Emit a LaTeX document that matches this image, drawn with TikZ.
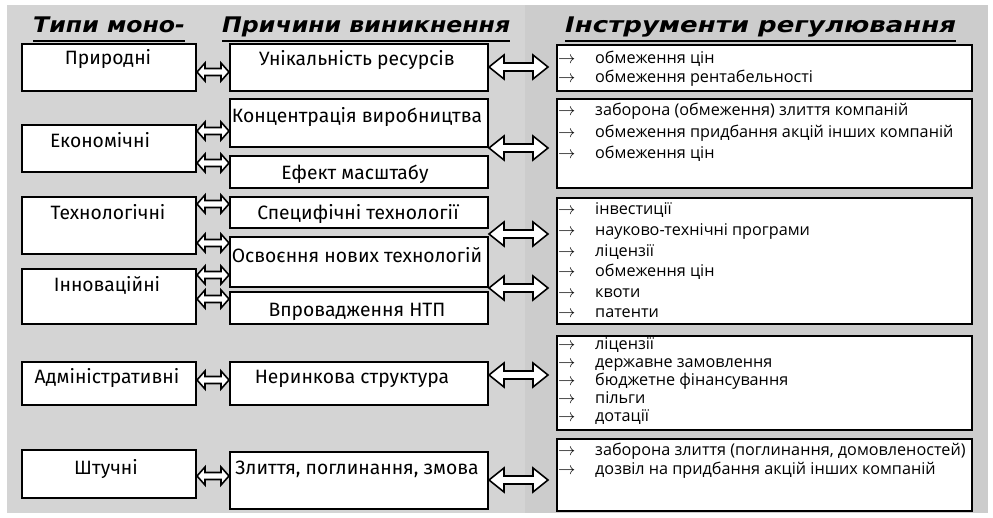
\documentclass[tikz,border=0pt]{standalone}
\usepackage{fontspec}
\setmainfont{Fira Sans}
\newfontfamily\listfont{Open Sans}
\newfontfamily\hdrfont[FakeStretch=1.1]{DejaVu Sans}
\newfontfamily\hdrfontw[FakeStretch=1.21]{DejaVu Sans}
\usetikzlibrary{calc}
\newcommand\dblarrow[7]{%
  % #1 from node, #2 to node, #3 centre y (px), #4 half head, #5 half shaft, #6 head length, #7 gap at right
  \draw[arr] let \p1=(#1.east), \p2=(#2.west) in
    (\x1,{-#3pt})
    -- ({\x1+#6pt},{-#3pt+#4pt}) -- ({\x1+#6pt},{-#3pt+#5pt})
    -- ({\x2-#7pt-#6pt},{-#3pt+#5pt}) -- ({\x2-#7pt-#6pt},{-#3pt+#4pt})
    -- ({\x2-#7pt},{-#3pt})
    -- ({\x2-#7pt-#6pt},{-#3pt-#4pt}) -- ({\x2-#7pt-#6pt},{-#3pt-#5pt})
    -- ({\x1+#6pt},{-#3pt-#5pt}) -- ({\x1+#6pt},{-#3pt-#4pt}) -- cycle;}
\newcommand\itemlist[4]{%
  \foreach \t [count=\i] in {#4} {\node[lstitem] (#1-\i) at (558,{#2+(\i-1)*#3}) {\makebox[37pt][l]{$\rightarrow$}\t};}}
\begin{document}
\begin{tikzpicture}[x=1pt,y=-1pt,
  box/.style={draw, line width=2pt, fill=white, inner sep=0, anchor=north west},
  lbl/.style={anchor=base, inner sep=0, font=\fontsize{19.3}{23}\selectfont},
  lstitem/.style={anchor=base west, inner sep=0, font=\listfont\fontsize{16.2}{19}\selectfont},
  hdr/.style={anchor=base west, inner sep=0, font=\hdrfont\bfseries\itshape\fontsize{21.5}{25}\selectfont},
  arr/.style={draw, line width=1.6pt, fill=white, line join=miter},
  uline/.style={line width=2pt}]
\useasboundingbox (0,0) rectangle (993,518);
% background
\fill[fill=black!17] (7,5) rectangle (525,513);
\fill[fill=black!20] (525,5) rectangle (988,513);
% headers
\node[hdr] (h1) at (33,33) {Типи моно-};
\node[hdr] (h2) at (222,33) {Причини виникнення};
\node[hdr, font=\hdrfontw\bfseries\itshape\fontsize{21.5}{25}\selectfont] (h3) at (565,33) {Інструменти регулювання};
\foreach \h in {h1,h2,h3} \draw[uline] ([yshift=-8pt]\h.base west) -- ([yshift=-8pt]\h.base east);
% left column
\node[box, minimum width=174pt, minimum height=47pt] (n1) at (21,43) {};
\node[box, minimum width=174pt, minimum height=47pt] (n2) at (21,124) {};
\node[box, minimum width=174pt, minimum height=57pt] (n3) at (21,196) {};
\node[box, minimum width=174pt, minimum height=55pt] (n4) at (21,268) {};
\node[box, minimum width=174pt, minimum height=43pt] (n5) at (21,361) {};
\node[box, minimum width=174pt, minimum height=48pt] (n6) at (21,449) {};
% middle column
\node[box, minimum width=258pt, minimum height=47pt] (m1) at (229,43) {};
\node[box, minimum width=258pt, minimum height=48pt] (m2) at (229,98) {};
\node[box, minimum width=258pt, minimum height=32pt] (m3) at (229,155) {};
\node[box, minimum width=258pt, minimum height=31pt] (m4) at (229,196) {};
\node[box, minimum width=258pt, minimum height=50pt] (m5) at (229,236) {};
\node[box, minimum width=258pt, minimum height=32pt] (m6) at (229,291) {};
\node[box, minimum width=258pt, minimum height=43pt] (m7) at (229,361) {};
\node[box, minimum width=258pt, minimum height=57pt] (m8) at (229,451) {};
% right column
\node[box, minimum width=415pt, minimum height=46pt] (r1) at (556,44) {};
\node[box, minimum width=415pt, minimum height=89pt] (r2) at (556,98) {};
\node[box, minimum width=415pt, minimum height=126pt] (r3) at (556,197) {};
\node[box, minimum width=415pt, minimum height=94pt] (r4) at (556,335) {};
\node[box, minimum width=415pt, minimum height=72pt] (r5) at (556,438) {};
% small arrows
\dblarrow{n1}{m1}{72}{9}{3.5}{8}{0}
\dblarrow{n2}{m2}{131}{9}{3.5}{8}{0}
\dblarrow{n2}{m3}{163}{9}{3.5}{8}{0}
\dblarrow{n3}{m4}{204}{9}{3.5}{8}{0}
\dblarrow{n3}{m5}{243}{9}{3.5}{8}{0}
\dblarrow{n4}{m5}{275}{9}{3.5}{8}{0}
\dblarrow{n4}{m6}{299}{9}{3.5}{8}{0}
\dblarrow{n5}{m7}{380}{9}{3.5}{8}{0}
\dblarrow{n6}{m8}{476}{9}{3.5}{8}{0}
% big arrows
\dblarrow{m1}{r1}{67}{12}{4}{15}{8}
\dblarrow{m2}{r2}{148}{12}{4}{15}{8}
\dblarrow{m4}{r3}{234}{12}{4}{15}{8}
\dblarrow{m6}{r3}{288}{12}{4}{15}{8}
\dblarrow{m7}{r4}{375}{12}{4}{15}{8}
\dblarrow{m8}{r5}{480}{12}{4}{15}{8}
% left labels
\node[lbl] (tn1) at (108,65) {Природні};
\node[lbl] (tn2) at (100,148) {Економічні};
\node[lbl] (tn3) at (108,220) {Технологічні};
\node[lbl] (tn4) at (107,292) {Інноваційні};
\node[lbl] (tn5) at (107,384) {Адміністративні};
\node[lbl] (tn6) at (106,474) {Штучні};
% middle labels
\node[lbl] (tm1) at (357,66) {Унікальність ресурсів};
\node[lbl] (tm2) at (357,123) {Концентрація виробництва};
\node[lbl] (tm3) at (355,180) {Ефект масштабу};
\node[lbl] (tm4) at (358,220) {Специфічні технології};
\node[lbl] (tm5) at (357,263) {Освоєння нових технологій};
\node[lbl] (tm6) at (357,317) {Впровадження НТП};
\node[lbl] (tm7) at (352,384) {Неринкова структура};
\node[lbl] (tm8) at (357,474) {Злиття, поглинання, змова};
% right lists
\itemlist{l1}{64}{19}{обмеження цін, обмеження рентабельності}
\itemlist{l2}{116}{21.5}{заборона (обмеження) злиття компаній, обмеження придбання акцій інших компаній, обмеження цін}
\itemlist{l3}{215}{20.6}{інвестиції, науково-технічні програми, ліцензії, обмеження цін, квоти, патенти}
\itemlist{l4}{350}{17.8}{ліцензії, державне замовлення, бюджетне фінансування, пільги, дотації}
\itemlist{l5}{455}{19}{{заборона злиття (поглинання, домовленостей)}, дозвіл на придбання акцій інших компаній}
\end{tikzpicture}
\end{document}
